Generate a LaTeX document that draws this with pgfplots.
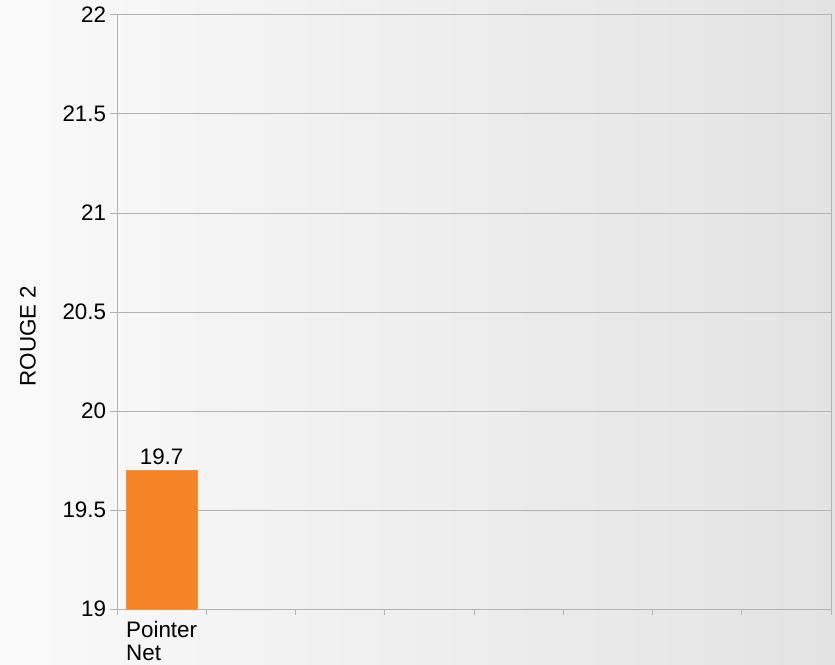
\documentclass[border=0pt]{standalone}
\usepackage{pgfplots}
\pgfplotsset{compat=1.18}
\usepackage{fontspec}
\setmainfont{Liberation Sans}
\definecolor{barorange}{RGB}{245,132,38}
\definecolor{axgray}{RGB}{179,179,179}
\begin{document}
\begin{tikzpicture}
\fontsize{11.2}{13}\selectfont
\shade[left color=black!2, right color=black!11] (0,0) rectangle (417.5pt,332pt);
\begin{axis}[
  at={(58.5pt,27.5pt)}, anchor=south west,
  scale only axis, width=357pt, height=297pt,
  xmin=-0.5, xmax=7.5, ymin=19, ymax=22,
  ytick={19,19.5,...,22},
  xtick={0}, xticklabels={Pointer\\Net},
  xticklabel style={align=left, font=\fontsize{11.2}{11.5}\selectfont, yshift=1.5pt},
  minor xtick={-0.5,0.5,...,7.5},
  major x tick style={draw=none},
  minor x tick style={draw=axgray, line width=0.5pt},
  minor tick length=2.8pt,
  y tick style={draw=axgray, line width=0.5pt},
  major tick length=3.5pt,
  tick align=outside,
  xtick pos=bottom, ytick pos=left,
  ymajorgrids, grid style={axgray, line width=0.5pt},
  axis line style={axgray, line width=0.5pt},
  /pgf/number format/assume math mode=true,
  yticklabel style={font=\fontsize{11.2}{12}\selectfont, xshift=2pt},
  ybar, bar width=0.8, bar shift=0pt,
  nodes near coords,
  every node near coord/.append style={font=\fontsize{11.2}{12}\selectfont, black, yshift=-1pt},
  /pgf/number format/.cd, fixed, precision=1,
]
\addplot[fill=barorange, draw=barorange!90!white] coordinates {(0,19.7)};
\end{axis}
\node[rotate=90] at (14pt,164pt) {ROUGE 2};
\pgfresetboundingbox
\path (0,0) rectangle (417.5pt,332pt);
\end{tikzpicture}
\end{document}
